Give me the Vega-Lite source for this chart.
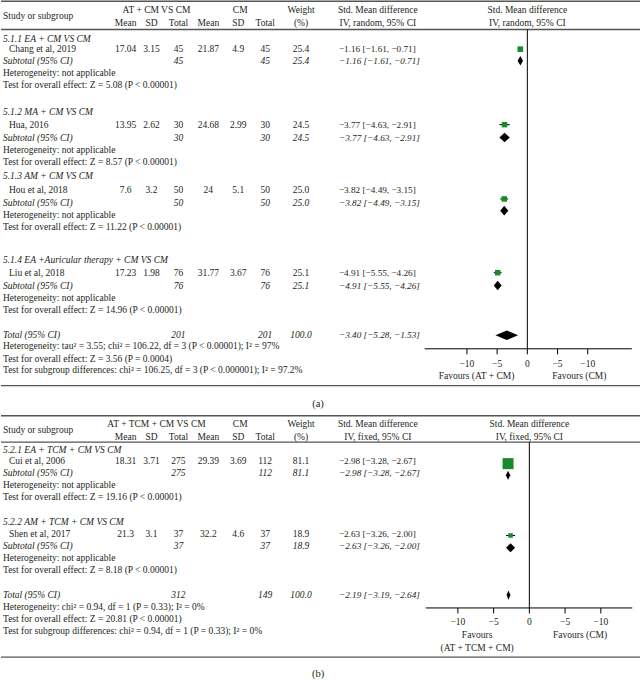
{
"$schema":"https://vega.github.io/schema/vega-lite/v6.json",
"width":641,"height":680,"padding":0,
"autosize":{"type":"fit","contains":"padding"},
"config":{"view":{"stroke":null},"text":{"font":"Liberation Serif","fontSize":9.5,"color":"#231f20"}},
"datasets":{
"rows":[
{"p":"a","r":0.8,"kind":"hdr","hd":"AT + CM VS CM","hcm":"CM","w":"Weight","hci":"Std. Mean difference","ph":"Std. Mean difference"},
{"p":"a","r":1.3,"kind":"hdr","label":"Study or subgroup"},
{"p":"a","r":1.85,"kind":"hdr","m1":"Mean","sd1":"SD","n1":"Total","m2":"Mean","sd2":"SD","n2":"Total","w":"(%)","hci":"IV, random, 95% CI","ph":"IV, random, 95% CI"},
{"p":"a","r":3.15,"kind":"grp","label":"5.1.1 EA + CM VS CM"},
{"p":"a","r":4.0,"kind":"study","study":"Chang et al, 2019","m1":"17.04","sd1":"3.15","n1":"45","m2":"21.87","sd2":"4.9","n2":"45","w":"25.4","ci":"−1.16 [−1.61, −0.71]"},
{"p":"a","r":4.95,"kind":"sub","label":"Subtotal (95% CI)","n1":"45","n2":"45","w":"25.4","ci":"−1.16 [−1.61, −0.71]"},
{"p":"a","r":5.95,"kind":"note","label":"Heterogeneity: not applicable"},
{"p":"a","r":6.9,"kind":"note","label":"Test for overall effect: Z = 5.08 (P < 0.00001)"},
{"p":"a","r":9.1,"kind":"grp","label":"5.1.2 MA + CM VS CM"},
{"p":"a","r":10.15,"kind":"study","study":"Hua, 2016","m1":"13.95","sd1":"2.62","n1":"30","m2":"24.68","sd2":"2.99","n2":"30","w":"24.5","ci":"−3.77 [−4.63, −2.91]"},
{"p":"a","r":11.2,"kind":"sub","label":"Subtotal (95% CI)","n1":"30","n2":"30","w":"24.5","ci":"−3.77 [−4.63, −2.91]"},
{"p":"a","r":12.2,"kind":"note","label":"Heterogeneity: not applicable"},
{"p":"a","r":13.2,"kind":"note","label":"Test for overall effect: Z = 8.57 (P < 0.00001)"},
{"p":"a","r":14.3,"kind":"grp","label":"5.1.3 AM + CM VS CM"},
{"p":"a","r":15.45,"kind":"study","study":"Hou et al, 2018","m1":"7.6","sd1":"3.2","n1":"50","m2":"24","sd2":"5.1","n2":"50","w":"25.0","ci":"−3.82 [−4.49, −3.15]"},
{"p":"a","r":16.5,"kind":"sub","label":"Subtotal (95% CI)","n1":"50","n2":"50","w":"25.0","ci":"−3.82 [−4.49, −3.15]"},
{"p":"a","r":17.5,"kind":"note","label":"Heterogeneity: not applicable"},
{"p":"a","r":18.5,"kind":"note","label":"Test for overall effect: Z = 11.22 (P < 0.00001)"},
{"p":"a","r":21.15,"kind":"grp","label":"5.1.4 EA +Auricular therapy + CM VS CM"},
{"p":"a","r":22.2,"kind":"study","study":"Liu et al, 2018","m1":"17.23","sd1":"1.98","n1":"76","m2":"31.77","sd2":"3.67","n2":"76","w":"25.1","ci":"−4.91 [−5.55, −4.26]"},
{"p":"a","r":23.25,"kind":"sub","label":"Subtotal (95% CI)","n1":"76","n2":"76","w":"25.1","ci":"−4.91 [−5.55, −4.26]"},
{"p":"a","r":24.25,"kind":"note","label":"Heterogeneity: not applicable"},
{"p":"a","r":25.2,"kind":"note","label":"Test for overall effect: Z = 14.96 (P < 0.00001)"},
{"p":"a","r":27.25,"kind":"tot","label":"Total (95% CI)","n1":"201","n2":"201","w":"100.0","ci":"−3.40 [−5.28, −1.53]"},
{"p":"a","r":28.2,"kind":"note","label":"Heterogeneity: tau² = 3.55; chi² = 106.22, df = 3 (P < 0.00001); I² = 97%"},
{"p":"a","r":29.2,"kind":"note","label":"Test for overall effect: Z = 3.56 (P = 0.0004)"},
{"p":"a","r":30.15,"kind":"note","label":"Test for subgroup differences: chi² = 106.25, df = 3 (P < 0.000001); I² = 97.2%"},
{"p":"a","r":32.9,"kind":"cap","cap":"(a)"},
{"p":"b","r":34.55,"kind":"hdr","hd":"AT + TCM + CM VS CM","hcm":"CM","w":"Weight","hci":"Std. Mean difference","ph":"Std. Mean difference"},
{"p":"b","r":35.05,"kind":"hdr","label":"Study or subgroup"},
{"p":"b","r":35.55,"kind":"hdr","m1":"Mean","sd1":"SD","n1":"Total","m2":"Mean","sd2":"SD","n2":"Total","w":"(%)","hci":"IV, fixed, 95% CI","ph":"IV, fixed, 95% CI"},
{"p":"b","r":36.65,"kind":"grp","label":"5.2.1 EA + TCM + CM VS CM"},
{"p":"b","r":37.55,"kind":"study","study":"Cui et al, 2006","m1":"18.31","sd1":"3.71","n1":"275","m2":"29.39","sd2":"3.69","n2":"112","w":"81.1","ci":"−2.98 [−3.28, −2.67]"},
{"p":"b","r":38.55,"kind":"sub","label":"Subtotal (95% CI)","n1":"275","n2":"112","w":"81.1","ci":"−2.98 [−3.28, −2.67]"},
{"p":"b","r":39.5,"kind":"note","label":"Heterogeneity: not applicable"},
{"p":"b","r":40.5,"kind":"note","label":"Test for overall effect: Z = 19.16 (P < 0.00001)"},
{"p":"b","r":42.5,"kind":"grp","label":"5.2.2 AM + TCM + CM VS CM"},
{"p":"b","r":43.5,"kind":"study","study":"Shen et al, 2017","m1":"21.3","sd1":"3.1","n1":"37","m2":"32.2","sd2":"4.6","n2":"37","w":"18.9","ci":"−2.63 [−3.26, −2.00]"},
{"p":"b","r":44.45,"kind":"sub","label":"Subtotal (95% CI)","n1":"37","n2":"37","w":"18.9","ci":"−2.63 [−3.26, −2.00]"},
{"p":"b","r":45.45,"kind":"note","label":"Heterogeneity: not applicable"},
{"p":"b","r":46.4,"kind":"note","label":"Test for overall effect: Z = 8.18 (P < 0.00001)"},
{"p":"b","r":48.45,"kind":"tot","label":"Total (95% CI)","n1":"312","n2":"149","w":"100.0","ci":"−2.19 [−3.19, −2.64]"},
{"p":"b","r":49.45,"kind":"note","label":"Heterogeneity: chi² = 0.94, df = 1 (P = 0.33); I² = 0%"},
{"p":"b","r":50.4,"kind":"note","label":"Test for overall effect: Z = 20.81 (P < 0.00001)"},
{"p":"b","r":51.4,"kind":"note","label":"Test for subgroup differences: chi² = 0.94, df = 1 (P = 0.33); I² = 0%"},
{"p":"b","r":54.9,"kind":"cap","cap":"(b)"}
],
"fp":[
{"p":"a","r":4.0,"type":"study","est":-1.16,"lo":-1.61,"hi":-0.71,"w":25.4},
{"p":"a","r":4.95,"type":"sum","est":-1.16,"lo":-1.61,"hi":-0.71},
{"p":"a","r":10.15,"type":"study","est":-3.77,"lo":-4.63,"hi":-2.91,"w":24.5},
{"p":"a","r":11.2,"type":"sum","est":-3.77,"lo":-4.63,"hi":-2.91},
{"p":"a","r":16.2,"type":"study","est":-3.82,"lo":-4.49,"hi":-3.15,"w":25.0},
{"p":"a","r":17.15,"type":"sum","est":-3.82,"lo":-4.49,"hi":-3.15},
{"p":"a","r":22.2,"type":"study","est":-4.91,"lo":-5.55,"hi":-4.26,"w":25.1},
{"p":"a","r":23.25,"type":"sum","est":-4.91,"lo":-5.55,"hi":-4.26},
{"p":"a","r":27.3,"type":"sum","est":-3.40,"lo":-5.28,"hi":-1.53},
{"p":"b","r":37.75,"type":"study","est":-2.98,"lo":-3.28,"hi":-2.67,"w":81.1},
{"p":"b","r":38.7,"type":"sum","est":-2.98,"lo":-3.28,"hi":-2.67},
{"p":"b","r":43.6,"type":"study","est":-2.63,"lo":-3.26,"hi":-2.00,"w":18.9},
{"p":"b","r":44.6,"type":"sum","est":-2.63,"lo":-3.26,"hi":-2.00},
{"p":"b","r":48.45,"type":"sum","est":-2.92,"lo":-3.19,"hi":-2.64}
],
"ticks":[
{"p":"a","v":-10,"lab":"−10"},{"p":"a","v":-5,"lab":"−5"},{"p":"a","v":0,"lab":"0"},{"p":"a","v":5,"lab":"−5"},{"p":"a","v":10,"lab":"−10"},
{"p":"b","v":-10,"lab":"−10"},{"p":"b","v":-5,"lab":"−5"},{"p":"b","v":0,"lab":"0"},{"p":"b","v":5,"lab":"−5"},{"p":"b","v":10,"lab":"−10"}
],
"flab":[
{"p":"a","r":30.65,"v":-8.4,"t":"Favours (AT + CM)"},
{"p":"a","r":30.65,"v":8.6,"t":"Favours (CM)"},
{"p":"b","r":51.7,"v":-7.3,"t":"Favours"},
{"p":"b","r":52.75,"v":-7.3,"t":"(AT + TCM + CM)"},
{"p":"b","r":51.7,"v":7.1,"t":"Favours (CM)"}
],
"seps":[{"r":0.1},{"r":2.4},{"r":31.4},{"r":33.85},{"r":36.0},{"r":53.5}],
"one":[{}]
},
"resolve":{"scale":{"x":"independent","size":"independent"}},
"layer":[
{"data":{"name":"seps"},"mark":{"type":"rule","color":"#555","strokeWidth":1.3},"encoding":{"y":{"field":"r","type":"quantitative","scale":{"domain":[0,55.285],"reverse":true,"nice":false,"zero":false},"axis":null}}},
{"data":{"name":"rows"},
 "encoding":{"y":{"field":"r","type":"quantitative","scale":{"domain":[0,55.285],"reverse":true,"nice":false,"zero":false},"axis":null}},
 "layer":[
 {"transform":[{"filter":"isValid(datum.label) && (datum.kind=='hdr' || datum.kind=='note')"}],"mark":{"type":"text","align":"left"},"encoding":{"x":{"datum":2,"type":"quantitative","scale":{"domain":[0,641],"nice":false,"zero":false},"axis":null},"text":{"field":"label"}}},
 {"transform":[{"filter":"isValid(datum.label) && indexof(['grp','sub','tot'], datum.kind) >= 0"}],"mark":{"type":"text","align":"left","fontStyle":"italic"},"encoding":{"x":{"datum":2,"type":"quantitative"},"text":{"field":"label"}}},
 {"transform":[{"filter":"isValid(datum.study)"}],"mark":{"type":"text","align":"left"},"encoding":{"x":{"datum":8,"type":"quantitative"},"text":{"field":"study"}}},
 {"transform":[{"filter":"isValid(datum.m1)"}],"mark":{"type":"text"},"encoding":{"x":{"datum":125,"type":"quantitative"},"text":{"field":"m1"}}},
 {"transform":[{"filter":"isValid(datum.sd1)"}],"mark":{"type":"text"},"encoding":{"x":{"datum":151,"type":"quantitative"},"text":{"field":"sd1"}}},
 {"transform":[{"filter":"isValid(datum.m2)"}],"mark":{"type":"text"},"encoding":{"x":{"datum":208,"type":"quantitative"},"text":{"field":"m2"}}},
 {"transform":[{"filter":"isValid(datum.sd2)"}],"mark":{"type":"text"},"encoding":{"x":{"datum":238,"type":"quantitative"},"text":{"field":"sd2"}}},
 {"transform":[{"filter":"isValid(datum.n1) && indexof(['sub','tot'], datum.kind) < 0"}],"mark":{"type":"text"},"encoding":{"x":{"datum":178,"type":"quantitative"},"text":{"field":"n1"}}},
 {"transform":[{"filter":"isValid(datum.n1) && indexof(['sub','tot'], datum.kind) >= 0"}],"mark":{"type":"text","fontStyle":"italic"},"encoding":{"x":{"datum":178,"type":"quantitative"},"text":{"field":"n1"}}},
 {"transform":[{"filter":"isValid(datum.n2) && indexof(['sub','tot'], datum.kind) < 0"}],"mark":{"type":"text"},"encoding":{"x":{"datum":265,"type":"quantitative"},"text":{"field":"n2"}}},
 {"transform":[{"filter":"isValid(datum.n2) && indexof(['sub','tot'], datum.kind) >= 0"}],"mark":{"type":"text","fontStyle":"italic"},"encoding":{"x":{"datum":265,"type":"quantitative"},"text":{"field":"n2"}}},
 {"transform":[{"filter":"isValid(datum.w) && indexof(['sub','tot'], datum.kind) < 0"}],"mark":{"type":"text"},"encoding":{"x":{"datum":301,"type":"quantitative"},"text":{"field":"w"}}},
 {"transform":[{"filter":"isValid(datum.w) && indexof(['sub','tot'], datum.kind) >= 0"}],"mark":{"type":"text","fontStyle":"italic"},"encoding":{"x":{"datum":301,"type":"quantitative"},"text":{"field":"w"}}},
 {"transform":[{"filter":"isValid(datum.ci) && indexof(['sub','tot'], datum.kind) < 0"}],"mark":{"type":"text","align":"left","fontSize":9.2},"encoding":{"x":{"datum":339,"type":"quantitative"},"text":{"field":"ci"}}},
 {"transform":[{"filter":"isValid(datum.ci) && indexof(['sub','tot'], datum.kind) >= 0"}],"mark":{"type":"text","align":"left","fontStyle":"italic","fontSize":9.2},"encoding":{"x":{"datum":339,"type":"quantitative"},"text":{"field":"ci"}}},
 {"transform":[{"filter":"isValid(datum.hd)"}],"mark":{"type":"text"},"encoding":{"x":{"datum":156,"type":"quantitative"},"text":{"field":"hd"}}},
 {"transform":[{"filter":"isValid(datum.hcm)"}],"mark":{"type":"text"},"encoding":{"x":{"datum":240,"type":"quantitative"},"text":{"field":"hcm"}}},
 {"transform":[{"filter":"isValid(datum.hci)"}],"mark":{"type":"text"},"encoding":{"x":{"datum":378,"type":"quantitative"},"text":{"field":"hci"}}},
 {"transform":[{"filter":"isValid(datum.cap)"}],"mark":{"type":"text","fontSize":10.5},"encoding":{"x":{"datum":318,"type":"quantitative"},"text":{"field":"cap"}}}
]},
{"resolve":{"scale":{"size":"independent"}},"layer":[
 {"data":{"name":"one"},"mark":{"type":"rule","color":"black","strokeWidth":1},"encoding":{"x":{"datum":0,"type":"quantitative","scale":{"domain":[-87.13,18.65],"nice":false,"zero":false},"axis":null},"y":{"datum":2.4,"type":"quantitative"},"y2":{"datum":28.4}}},
 {"data":{"name":"one"},"mark":{"type":"rule","color":"black","strokeWidth":1},"encoding":{"x":{"datum":-17,"type":"quantitative"},"x2":{"datum":17.3},"y":{"datum":28.4,"type":"quantitative"}}},
 {"data":{"name":"ticks"},"transform":[{"filter":"datum.p=='a'"}],"mark":{"type":"rule","color":"black","strokeWidth":1},"encoding":{"x":{"field":"v","type":"quantitative"},"y":{"datum":28.4,"type":"quantitative"},"y2":{"datum":28.85}}},
 {"data":{"name":"ticks"},"transform":[{"filter":"datum.p=='a'"}],"mark":{"type":"text"},"encoding":{"x":{"field":"v","type":"quantitative"},"y":{"datum":29.6,"type":"quantitative"},"text":{"field":"lab"}}},
 {"data":{"name":"flab"},"transform":[{"filter":"datum.p=='a'"}],"mark":{"type":"text"},"encoding":{"x":{"field":"v","type":"quantitative"},"y":{"field":"r","type":"quantitative"},"text":{"field":"t"}}},
 {"data":{"name":"rows"},"transform":[{"filter":"datum.p=='a' && isValid(datum.ph)"}],"mark":{"type":"text"},"encoding":{"x":{"datum":0,"type":"quantitative"},"y":{"field":"r","type":"quantitative"},"text":{"field":"ph"}}},
 {"data":{"name":"fp"},"transform":[{"filter":"datum.p=='a' && datum.type=='study'"}],"mark":{"type":"rule","color":"black","strokeWidth":1},"encoding":{"x":{"field":"lo","type":"quantitative"},"x2":{"field":"hi"},"y":{"field":"r","type":"quantitative"}}},
 {"data":{"name":"fp"},"transform":[{"filter":"datum.p=='a' && datum.type=='study'"}],"mark":{"type":"point","shape":"square","filled":true,"color":"#178a2c","opacity":1},"encoding":{"x":{"field":"est","type":"quantitative"},"y":{"field":"r","type":"quantitative"},"size":{"field":"w","type":"quantitative","scale":{"domain":[10,100],"range":[6,152]},"legend":null}}},
 {"data":{"name":"fp"},"transform":[{"filter":"datum.p=='a' && datum.type=='sum'"},{"fold":["lo","est","hi"],"as":["key","value"]}],"mark":{"type":"area","color":"black","opacity":1,"orient":"vertical","yOffset":{"expr":"datum.key == 'est' ? -4.8 : 0"},"y2Offset":{"expr":"datum.key == 'est' ? 4.8 : 0"}},"encoding":{"x":{"field":"value","type":"quantitative"},"y":{"field":"r","type":"quantitative","stack":null},"y2":{"field":"r"},"detail":{"field":"r","type":"nominal"}}}
]},
{"resolve":{"scale":{"size":"independent"}},"layer":[
 {"data":{"name":"one"},"mark":{"type":"rule","color":"black","strokeWidth":1},"encoding":{"x":{"datum":0,"type":"quantitative","scale":{"domain":[-73.92,15.48],"nice":false,"zero":false},"axis":null},"y":{"datum":36.0,"type":"quantitative"},"y2":{"datum":49.5}}},
 {"data":{"name":"one"},"mark":{"type":"rule","color":"black","strokeWidth":1},"encoding":{"x":{"datum":-14.5,"type":"quantitative"},"x2":{"datum":14.4},"y":{"datum":49.5,"type":"quantitative"}}},
 {"data":{"name":"ticks"},"transform":[{"filter":"datum.p=='b'"}],"mark":{"type":"rule","color":"black","strokeWidth":1},"encoding":{"x":{"field":"v","type":"quantitative"},"y":{"datum":49.5,"type":"quantitative"},"y2":{"datum":49.95}}},
 {"data":{"name":"ticks"},"transform":[{"filter":"datum.p=='b'"}],"mark":{"type":"text"},"encoding":{"x":{"field":"v","type":"quantitative"},"y":{"datum":50.65,"type":"quantitative"},"text":{"field":"lab"}}},
 {"data":{"name":"flab"},"transform":[{"filter":"datum.p=='b'"}],"mark":{"type":"text"},"encoding":{"x":{"field":"v","type":"quantitative"},"y":{"field":"r","type":"quantitative"},"text":{"field":"t"}}},
 {"data":{"name":"rows"},"transform":[{"filter":"datum.p=='b' && isValid(datum.ph)"}],"mark":{"type":"text"},"encoding":{"x":{"datum":0,"type":"quantitative"},"y":{"field":"r","type":"quantitative"},"text":{"field":"ph"}}},
 {"data":{"name":"fp"},"transform":[{"filter":"datum.p=='b' && datum.type=='study'"}],"mark":{"type":"rule","color":"black","strokeWidth":1},"encoding":{"x":{"field":"lo","type":"quantitative"},"x2":{"field":"hi"},"y":{"field":"r","type":"quantitative"}}},
 {"data":{"name":"fp"},"transform":[{"filter":"datum.p=='b' && datum.type=='study'"}],"mark":{"type":"point","shape":"square","filled":true,"color":"#178a2c","opacity":1},"encoding":{"x":{"field":"est","type":"quantitative"},"y":{"field":"r","type":"quantitative"},"size":{"field":"w","type":"quantitative","scale":{"domain":[10,100],"range":[6,152]},"legend":null}}},
 {"data":{"name":"fp"},"transform":[{"filter":"datum.p=='b' && datum.type=='sum'"},{"fold":["lo","est","hi"],"as":["key","value"]}],"mark":{"type":"area","color":"black","opacity":1,"orient":"vertical","yOffset":{"expr":"datum.key == 'est' ? -4.6 : 0"},"y2Offset":{"expr":"datum.key == 'est' ? 4.6 : 0"}},"encoding":{"x":{"field":"value","type":"quantitative"},"y":{"field":"r","type":"quantitative","stack":null},"y2":{"field":"r"},"detail":{"field":"r","type":"nominal"}}}
]}
]
}
